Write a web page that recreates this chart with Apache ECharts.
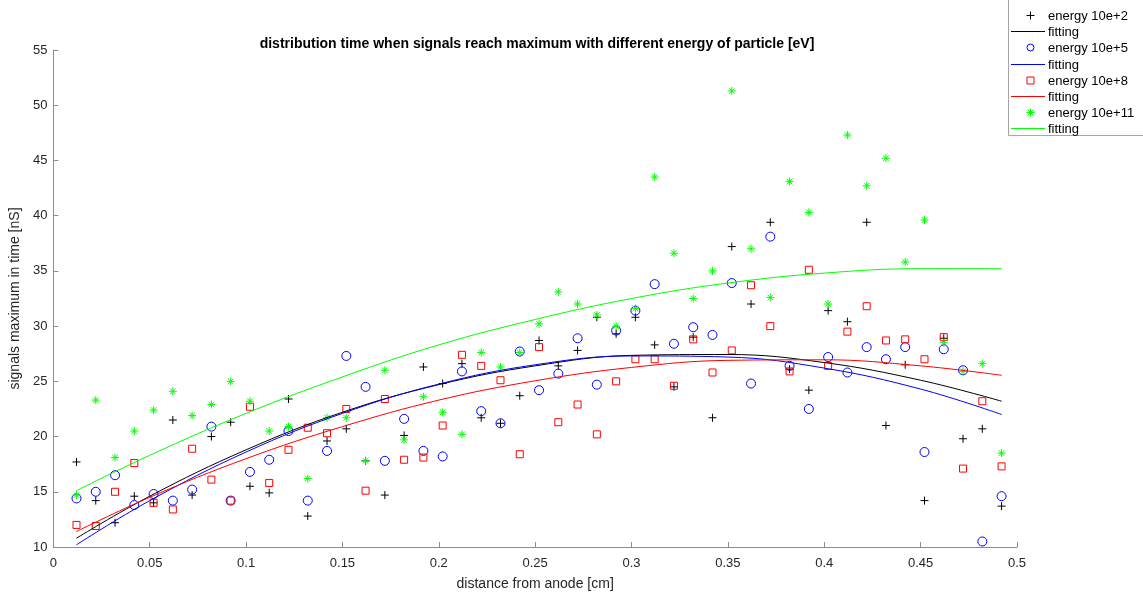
<!DOCTYPE html>
<html>
<head>
<meta charset="utf-8">
<script src="https://cdn.jsdelivr.net/npm/echarts@6/dist/echarts.min.js"></script>
<style>
html,body{margin:0;padding:0;background:#fff;overflow:hidden;}
#c{width:1143px;height:596px;}
</style>
</head>
<body>
<div id="c"></div>
<script>
const xs = [0.012,0.022,0.032,0.042,0.052,0.062,0.072,0.082,0.092,0.102,
  0.112,0.122,0.132,0.142,0.152,0.162,0.172,0.182,0.192,0.202,
  0.212,0.222,0.232,0.242,0.252,0.262,0.272,0.282,0.292,0.302,
  0.312,0.322,0.332,0.342,0.352,0.362,0.372,0.382,0.392,0.402,
  0.412,0.422,0.432,0.442,0.452,0.462,0.472,0.482,0.492];

const e2 = [17.7,14.2,12.2,14.6,14.0,21.5,14.7,20.0,21.3,15.5,
  14.9,23.4,12.8,19.6,20.7,17.8,14.7,20.1,26.3,24.8,
  26.6,21.7,21.2,23.7,28.7,26.4,27.8,30.8,29.3,30.8,
  28.3,24.5,29.0,21.7,37.2,32.0,39.4,26.1,24.2,31.4,
  30.4,39.4,21.0,26.5,14.2,28.9,19.8,20.7,13.7];

const e5 = [14.4,15.0,16.5,13.8,14.8,14.2,15.2,20.9,14.2,16.8,
  17.9,20.5,14.2,18.7,27.3,24.5,17.8,21.6,18.7,18.2,
  25.9,22.3,21.2,27.7,24.2,25.7,28.9,24.7,29.6,31.4,
  33.8,28.4,29.9,29.2,33.9,24.8,38.1,26.4,22.5,27.2,
  25.8,28.1,27.0,28.1,18.6,27.9,26.0,10.5,14.6];

const e8 = [12.0,11.9,15.0,17.6,14.0,13.4,18.9,16.1,14.2,22.7,
  15.8,18.8,20.8,20.3,22.5,15.1,23.4,17.9,18.1,21.0,
  27.4,26.4,25.1,18.4,28.1,21.3,22.9,20.2,25.0,27.0,
  27.0,24.6,28.8,25.8,27.8,33.7,30.0,25.9,35.1,26.4,
  29.5,31.8,28.7,28.8,27.0,29.0,17.1,23.2,17.3];

const e11 = [14.7,23.3,18.1,20.5,22.4,24.1,21.9,22.9,25.0,23.2,
  20.5,20.9,16.2,21.7,21.7,17.8,26.0,19.7,23.6,22.2,
  20.2,27.6,26.3,27.6,30.2,33.1,32.0,31.0,30.0,31.6,
  43.5,36.6,32.5,35.0,51.3,37.0,32.6,43.1,40.3,32.0,
  47.3,42.7,45.2,35.8,39.6,28.5,25.9,26.6,18.5];

// fitted curves at sample positions
const fitX = [0.012,0.05,0.1,0.15,0.2,0.25,0.3,0.35,0.4,0.45,0.492];
const fit2 = [10.8,14.6,18.8,22.2,24.7,26.4,27.35,27.43,26.7,25.1,23.2];
const fit5 = [10.2,14.2,18.6,22.1,24.75,26.5,27.3,27.2,26.2,24.3,22.0];
const fit8 = [11.4,14.5,18.0,20.9,23.3,25.05,26.26,26.9,26.95,26.4,25.55];
const fit11 = [15.1,18.3,22.1,25.4,28.3,30.6,32.5,33.9,34.8,35.2,35.2];

const xTicks = [0,0.05,0.1,0.15,0.2,0.25,0.3,0.35,0.4,0.45,0.5];
const yTicks = [10,15,20,25,30,35,40,45,50,55];

const legendLabels = ['energy 10e+2','fitting','energy 10e+5','fitting','energy 10e+8','fitting','energy 10e+11','fitting'];
const seriesNames = ['energy 10e+2','fit 10e+2','energy 10e+5','fit 10e+5','energy 10e+8','fit 10e+8','energy 10e+11','fit 10e+11'];

function pairs(x, y){ return x.map((v,i)=>[v,y[i]]); }

const plusPath = 'path://M0,5L10,5M5,0L5,10';
const starPath = 'path://M0,5L10,5M5,0L5,10M1.5,1.5L8.5,8.5M1.5,8.5L8.5,1.5';
const font = '"Liberation Sans", Arial, sans-serif';

function scatter(name, data, symbol, size, color){
  return {name, type:'scatter', data, symbol, symbolSize:size, z:2,
    itemStyle:{color:'rgba(0,0,0,0)', borderColor:color, borderWidth:1, opacity:1},
    emphasis:{disabled:true}, silent:true};
}
function fit(name, data, color){
  return {name, type:'line', data, smooth:0.4, showSymbol:false, symbol:'none', z:3,
    lineStyle:{color, width:1}, itemStyle:{color}, emphasis:{disabled:true}, silent:true};
}

// hand-built legend box (MATLAB style)
const colors = ['#000000','#000000','#0000ff','#0000ff','#ff0000','#ff0000','#00ff00','#00ff00'];
const kinds = ['plus','line','circle','line','square','line','star','line'];
const legendEls = [{type:'rect', z:100, shape:{x:1008.5, y:-2, width:200, height:137.5},
  style:{fill:'#fff', stroke:'#a6a6a6', lineWidth:1}}];
legendLabels.forEach((lab,i)=>{
  const cy = Math.round(15 + i*16.2) + 0.5;
  const cx = 1030.5, c = colors[i];
  const mk = () => ({stroke:c, lineWidth:1, fill:'rgba(0,0,0,0)'});
  if (kinds[i]==='line') {
    legendEls.push({type:'line', z:101, shape:{x1:1011, y1:cy, x2:1045, y2:cy}, style:mk()});
  } else if (kinds[i]==='plus') {
    legendEls.push({type:'line', z:101, shape:{x1:cx-4, y1:cy, x2:cx+4, y2:cy}, style:mk()});
    legendEls.push({type:'line', z:101, shape:{x1:cx, y1:cy-4, x2:cx, y2:cy+4}, style:mk()});
  } else if (kinds[i]==='circle') {
    legendEls.push({type:'circle', z:101, shape:{cx, cy, r:3.5}, style:mk()});
  } else if (kinds[i]==='square') {
    legendEls.push({type:'rect', z:101, shape:{x:cx-3.5, y:cy-3.5, width:7, height:7}, style:mk()});
  } else if (kinds[i]==='star') {
    [[-4,0,4,0],[0,-4,0,4],[-3,-3,3,3],[-3,3,3,-3]].forEach(s=>{
      legendEls.push({type:'line', z:101, shape:{x1:cx+s[0], y1:cy+s[1], x2:cx+s[2], y2:cy+s[3]}, style:mk()});
    });
  }
  legendEls.push({type:'text', z:101, x:1048, y:cy+1,
    style:{text:lab, fill:'#000', font:'13px "Liberation Sans", Arial, sans-serif', verticalAlign:'middle'}});
});

const chart = echarts.init(document.getElementById('c'), null, {renderer:'canvas'});
chart.setOption({
  animation:false,
  backgroundColor:'#fff',
  title:{text:'distribution time when signals reach maximum with different energy of particle [eV]',
    left:532, top:32, textAlign:'center',
    textStyle:{fontFamily:font, fontSize:14, fontWeight:'bold', color:'#000'}},
  legend:{show:false},
  graphic:legendEls,
  grid:{left:47, right:126, top:50, bottom:45, containLabel:false},
  xAxis:{type:'value', min:0, max:0.5, interval:0.05,
    name:'distance from anode [cm]', nameLocation:'middle', nameGap:30,
    nameTextStyle:{fontFamily:font, fontSize:14, color:'#262626'},
    axisLine:{show:true, onZero:false, lineStyle:{color:'#8c8c8c', width:1}},
    axisTick:{show:true, inside:true, length:5, lineStyle:{color:'#8c8c8c'}},
    axisLabel:{fontFamily:font, fontSize:13, color:'#262626', margin:10,
      formatter:v=>String(xTicks.find(t=>Math.abs(t-v)<1e-9) ?? v)},
    splitLine:{show:false}},
  yAxis:{type:'value', min:10, max:55, interval:5,
    name:'signals maximum in time [nS]', nameLocation:'middle', nameGap:17,
    nameTextStyle:{fontFamily:font, fontSize:14, color:'#262626'},
    axisLine:{show:true, lineStyle:{color:'#8c8c8c', width:1}},
    axisTick:{show:true, inside:true, length:5, lineStyle:{color:'#8c8c8c'}},
    axisLabel:{fontFamily:font, fontSize:13, color:'#262626', margin:6,
      formatter:v=>String(yTicks.find(t=>Math.abs(t-v)<1e-9) ?? v)},
    splitLine:{show:false}},
  series:[
    scatter(seriesNames[0], pairs(xs,e2), plusPath, 8, '#000000'),
    fit(seriesNames[1], pairs(fitX,fit2), '#000000'),
    scatter(seriesNames[2], pairs(xs,e5), 'circle', 9, '#0000ff'),
    fit(seriesNames[3], pairs(fitX,fit5), '#0000ff'),
    scatter(seriesNames[4], pairs(xs,e8), 'rect', 7, '#ff0000'),
    fit(seriesNames[5], pairs(fitX,fit8), '#ff0000'),
    scatter(seriesNames[6], pairs(xs,e11), starPath, 8, '#00ff00'),
    fit(seriesNames[7], pairs(fitX,fit11), '#00ff00')
  ]
});
</script>
</body>
</html>
